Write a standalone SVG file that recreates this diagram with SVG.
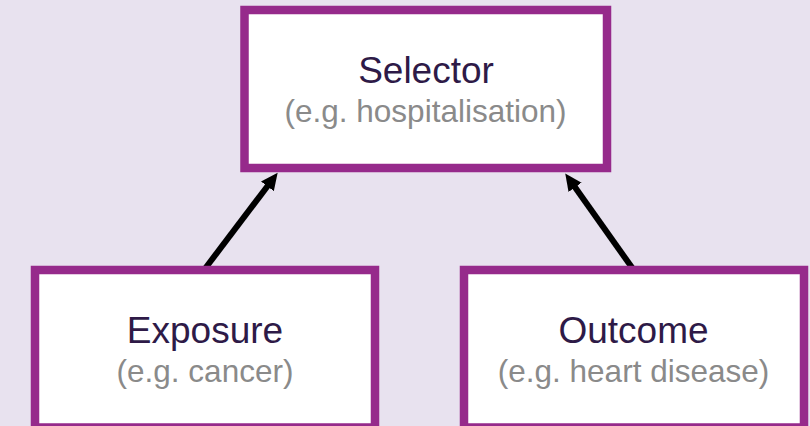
<svg xmlns="http://www.w3.org/2000/svg" width="810" height="426" viewBox="0 0 810 426">
  <style>
    .box { fill: #ffffff; stroke: #962a8b; stroke-width: 8.5; }
    .title { font-family: "Liberation Sans", Arial, sans-serif; font-size: 37px; fill: #2e1a47; text-anchor: middle; }
    .sub { font-family: "Liberation Sans", Arial, sans-serif; font-size: 31.5px; fill: #8a8a8a; text-anchor: middle; }
    .edge { stroke: #000000; stroke-width: 6; fill: none; marker-end: url(#head); }
  </style>
  <defs>
    <marker id="head" markerUnits="userSpaceOnUse" markerWidth="18" markerHeight="18" refX="1" refY="9" orient="auto">
      <path d="M0,1 L17,9 L0,17 Z" fill="#000000"/>
    </marker>
  </defs>
  <rect x="0" y="0" width="810" height="426" fill="#e8e2ef"/>

  <g id="connectors">
    <line class="edge" x1="205.5" y1="268" x2="268" y2="185.5"/>
    <line class="edge" x1="633" y1="269" x2="574.5" y2="186.5"/>
  </g>

  <g id="selector">
    <rect class="box" x="244.5" y="10" width="362.5" height="158"/>
    <text class="title" x="426" y="83">Selector</text>
    <text class="sub" x="425.5" y="122">(e.g. hospitalisation)</text>
  </g>

  <g id="exposure">
    <rect class="box" x="35" y="270" width="340" height="157.5"/>
    <text class="title" x="205" y="343">Exposure</text>
    <text class="sub" x="205" y="382">(e.g. cancer)</text>
  </g>

  <g id="outcome">
    <rect class="box" x="464" y="270" width="340" height="157.5"/>
    <text class="title" x="633.5" y="343">Outcome</text>
    <text class="sub" x="633.5" y="382">(e.g. heart disease)</text>
  </g>
</svg>
